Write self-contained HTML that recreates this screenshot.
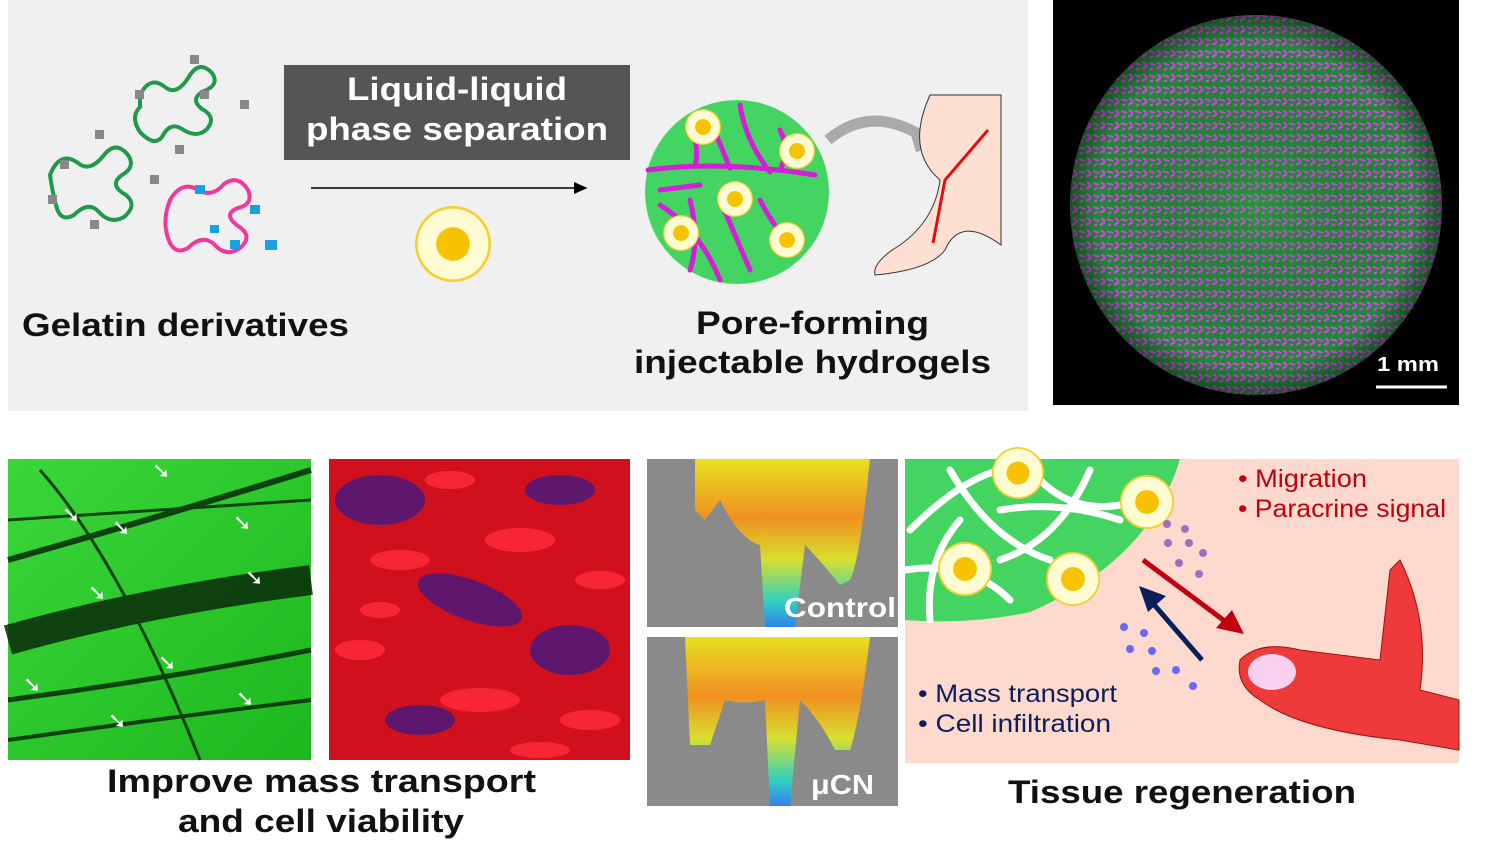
<!DOCTYPE html>
<html><head><meta charset="utf-8"><style>
html,body{margin:0;padding:0;background:#fff;}
svg{display:block;}
text{font-family:"Liberation Sans","DejaVu Sans",sans-serif;}
.b{font-weight:bold;}
</style></head><body>
<svg width="1495" height="865" viewBox="0 0 1495 865" xmlns="http://www.w3.org/2000/svg">
<defs>
<radialGradient id="cellg"><stop offset="0.43" stop-color="#f7c300"/><stop offset="0.45" stop-color="#fffbd2"/><stop offset="0.92" stop-color="#fffbd2"/><stop offset="0.94" stop-color="#f5cf30"/></radialGradient>
<pattern id="mag" width="14" height="12" patternUnits="userSpaceOnUse">
<rect width="14" height="12" fill="#1f8a34"/>
<path d="M1 3 l6 2 M8 9 l5 -3 M2 10 l3 -2 M9 2 l4 3" stroke="#d845e8" stroke-width="2.2"/>
</pattern>
<radialGradient id="sph"><stop offset="0" stop-color="#30c040" stop-opacity="0.25"/><stop offset="0.85" stop-color="#000" stop-opacity="0"/><stop offset="1" stop-color="#000" stop-opacity="0.4"/></radialGradient>
<linearGradient id="greenimg" x1="0" y1="0" x2="1" y2="1"><stop offset="0" stop-color="#3ad63a"/><stop offset="1" stop-color="#1db81d"/></linearGradient>
<linearGradient id="mouse" x1="0" y1="0" x2="0" y2="1"><stop offset="0" stop-color="#e8e020"/><stop offset="0.35" stop-color="#f09020"/><stop offset="0.6" stop-color="#d8e030"/><stop offset="0.85" stop-color="#30d0c0"/><stop offset="1" stop-color="#3080f0"/></linearGradient>
<marker id="ah" markerWidth="10" markerHeight="10" refX="8" refY="5" orient="auto"><path d="M0,1 L9,5 L0,9 z" fill="#000"/></marker>
</defs>

<rect x="8" y="0" width="1020" height="411" fill="#f0f0f0"/>
<g fill="none" stroke-width="4" stroke-linecap="round">
<path d="M140,95 q10,-20 25,-8 q12,10 25,-12 q10,-15 22,-2 q8,12 -8,18 q-15,8 -2,18 q15,8 5,20 q-10,10 -25,0 q-12,-8 -20,8 q-8,10 -22,-5 q-10,-15 0,-25z" stroke="#1f9a4a"/>
<path d="M50,175 q10,-25 28,-12 q12,10 26,-8 q12,-15 24,0 q8,12 -6,20 q-14,10 4,20 q12,10 -2,22 q-14,8 -26,-6 q-10,-10 -24,4 q-14,8 -18,-10 q-4,-15 -6,-30z" stroke="#1f9a4a"/>
<path d="M170,200 q12,-20 28,-10 q14,8 26,-6 q14,-10 24,6 q6,14 -10,18 q-16,6 0,18 q16,10 2,22 q-14,10 -26,-4 q-12,-10 -26,4 q-14,8 -20,-10 q-6,-18 2,-38z" stroke="#ee3a9a"/>
</g>
<g fill="#888"><rect x="190" y="55" width="9" height="9"/><rect x="240" y="100" width="9" height="9"/><rect x="135" y="90" width="9" height="9"/><rect x="175" y="145" width="9" height="9"/><rect x="95" y="130" width="9" height="9"/><rect x="150" y="175" width="9" height="9"/><rect x="48" y="195" width="9" height="9"/><rect x="90" y="220" width="9" height="9"/><rect x="200" y="90" width="9" height="9"/><rect x="60" y="160" width="9" height="9"/></g>
<g fill="#1aa0e0"><rect x="195" y="185" width="10" height="9"/><rect x="250" y="205" width="10" height="9"/><rect x="265" y="240" width="12" height="10"/><rect x="230" y="240" width="10" height="9"/><rect x="210" y="225" width="9" height="8"/></g>
<text x="22" y="336" class="b" font-size="32" fill="#111" textLength="327" lengthAdjust="spacingAndGlyphs">Gelatin derivatives</text>

<rect x="284" y="65" width="346" height="95" fill="#555"/>
<text x="347" y="100" class="b" font-size="32" fill="#fff" textLength="220" lengthAdjust="spacingAndGlyphs">Liquid-liquid</text>
<text x="306" y="140" class="b" font-size="32" fill="#fff" textLength="302" lengthAdjust="spacingAndGlyphs">phase separation</text>
<line x1="311" y1="188" x2="586" y2="188" stroke="#000" stroke-width="1.5" marker-end="url(#ah)"/>
<circle cx="453" cy="244" r="38" fill="url(#cellg)"/>

<circle cx="737" cy="192" r="92" fill="#44d461"/>
<g stroke="#d51ed8" stroke-width="5" fill="none" stroke-linecap="round">
<path d="M648,170 Q720,160 815,175"/><path d="M660,205 Q700,230 720,280"/><path d="M690,120 Q700,150 695,165"/><path d="M740,105 Q745,140 770,172"/><path d="M690,200 Q700,240 690,270"/><path d="M760,200 Q780,240 800,245"/><path d="M710,120 L730,168"/><path d="M780,130 Q790,150 780,170"/><path d="M720,200 L750,270"/><path d="M660,190 L700,185"/>
</g>
<circle cx="703" cy="127" r="18" fill="url(#cellg)"/><circle cx="797" cy="151" r="18" fill="url(#cellg)"/><circle cx="735" cy="199" r="18" fill="url(#cellg)"/><circle cx="681" cy="233" r="18" fill="url(#cellg)"/><circle cx="787" cy="240" r="18" fill="url(#cellg)"/>
<path d="M828,140 Q870,105 920,135" stroke="#aaa" stroke-width="11" fill="none"/>
<path d="M908,125 L932,148 L916,152z" fill="#aaa"/>
<path d="M930,95 L1001,95 L1001,245 Q960,215 945,250 Q930,270 875,275 Q872,262 900,245 Q935,220 940,180 Q905,150 930,95z" fill="#fde0d2" stroke="#333" stroke-width="1"/>
<path d="M988,130 L945,180 L933,243" stroke="#e01010" stroke-width="3" fill="none"/>
<text x="696" y="334" class="b" font-size="32" fill="#111" textLength="233" lengthAdjust="spacingAndGlyphs">Pore-forming</text>
<text x="634" y="373" class="b" font-size="32" fill="#111" textLength="357" lengthAdjust="spacingAndGlyphs">injectable hydrogels</text>

<rect x="1053" y="0" width="406" height="405" fill="#000"/>
<ellipse cx="1256" cy="205" rx="186" ry="190" fill="url(#mag)"/>
<ellipse cx="1256" cy="205" rx="186" ry="190" fill="url(#sph)"/>
<text x="1377" y="371" class="b" font-size="20" fill="#fff" textLength="62" lengthAdjust="spacingAndGlyphs">1 mm</text>
<line x1="1376" y1="387" x2="1447" y2="387" stroke="#fff" stroke-width="3"/>

<rect x="8" y="459" width="303" height="301" fill="url(#greenimg)"/>
<g stroke="#0a2a0a" fill="none" opacity="0.85">
<path d="M8,640 Q150,600 311,580" stroke-width="30"/>
<path d="M8,560 Q150,520 311,470" stroke-width="6"/>
<path d="M8,700 Q160,680 311,650" stroke-width="5"/>
<path d="M40,470 Q120,560 200,760" stroke-width="3"/>
<path d="M8,520 L311,500" stroke-width="3"/>
<path d="M8,740 Q150,720 311,700" stroke-width="4"/>
</g>
<g fill="#fff" font-size="22"><text x="62" y="522">➘</text><text x="112" y="535">➘</text><text x="152" y="478">➘</text><text x="233" y="530">➘</text><text x="88" y="600">➘</text><text x="245" y="585">➘</text><text x="158" y="670">➘</text><text x="23" y="692">➘</text><text x="108" y="728">➘</text><text x="236" y="706">➘</text></g>

<rect x="329" y="459" width="301" height="301" fill="#d0101c"/>
<g fill="#3a1a8a" opacity="0.75"><ellipse cx="380" cy="500" rx="45" ry="25"/><ellipse cx="470" cy="600" rx="55" ry="20" transform="rotate(20 470 600)"/><ellipse cx="570" cy="650" rx="40" ry="25"/><ellipse cx="560" cy="490" rx="35" ry="15"/><ellipse cx="420" cy="720" rx="35" ry="15"/></g>
<g fill="#ff2a3a" opacity="0.85"><ellipse cx="400" cy="560" rx="30" ry="10"/><ellipse cx="520" cy="540" rx="35" ry="12"/><ellipse cx="360" cy="650" rx="25" ry="10"/><ellipse cx="480" cy="700" rx="40" ry="12"/><ellipse cx="590" cy="720" rx="30" ry="10"/><ellipse cx="600" cy="580" rx="25" ry="9"/><ellipse cx="450" cy="480" rx="25" ry="9"/><ellipse cx="380" cy="610" rx="20" ry="8"/><ellipse cx="540" cy="750" rx="30" ry="8"/></g>
<text x="107" y="792" class="b" font-size="32" fill="#111" textLength="429" lengthAdjust="spacingAndGlyphs">Improve mass transport</text>
<text x="178" y="832" class="b" font-size="32" fill="#111" textLength="286" lengthAdjust="spacingAndGlyphs">and cell viability</text>

<rect x="647" y="459" width="251" height="168" fill="#8a8a8a"/>
<path d="M695,459 L870,459 Q860,560 850,580 L840,585 Q820,560 805,545 L795,627 L765,627 L760,545 Q740,540 720,500 L705,520 L695,510z" fill="url(#mouse)"/>
<text x="784" y="617" class="b" font-size="28" fill="#fff" textLength="112" lengthAdjust="spacingAndGlyphs">Control</text>
<rect x="647" y="637" width="251" height="169" fill="#8a8a8a"/>
<path d="M685,637 L870,637 Q860,720 850,750 L835,750 Q820,720 800,700 L790,806 L770,806 L765,700 Q745,705 725,700 L710,745 L690,745z" fill="url(#mouse)"/>
<text x="811" y="794" class="b" font-size="28" fill="#fff" textLength="63" lengthAdjust="spacingAndGlyphs">μCN</text>

<rect x="905" y="459" width="554" height="304" fill="#fdd9ce"/>
<path d="M905,459 L1180,459 Q1150,560 1030,612 Q970,625 905,620 Z" fill="#44d461"/>
<g stroke="#fff" stroke-width="7" fill="none" stroke-linecap="round">
<path d="M910,530 Q960,480 1000,470"/><path d="M930,620 Q925,560 960,520"/><path d="M950,470 Q990,540 1050,560"/><path d="M1040,480 Q1080,520 1140,500"/><path d="M905,570 Q970,560 1010,600"/><path d="M1090,470 Q1060,540 1000,560"/><path d="M1000,510 Q1060,500 1120,520"/>
</g>
<circle cx="1018" cy="473" r="26" fill="url(#cellg)"/><circle cx="1147" cy="502" r="27" fill="url(#cellg)"/><circle cx="965" cy="569" r="27" fill="url(#cellg)"/><circle cx="1073" cy="579" r="27" fill="url(#cellg)"/>
<g fill="#9a70c0"><circle cx="1167" cy="524" r="4"/><circle cx="1185" cy="529" r="4"/><circle cx="1168" cy="543" r="4"/><circle cx="1189" cy="543" r="4"/><circle cx="1203" cy="553" r="4"/><circle cx="1179" cy="563" r="4"/><circle cx="1199" cy="574" r="4"/></g>
<g fill="#6a6af0"><circle cx="1124" cy="627" r="4"/><circle cx="1144" cy="633" r="4"/><circle cx="1130" cy="649" r="4"/><circle cx="1152" cy="651" r="4"/><circle cx="1156" cy="671" r="4"/><circle cx="1176" cy="670" r="4"/><circle cx="1193" cy="686" r="4"/></g>
<line x1="1143" y1="560" x2="1230" y2="625" stroke="#c00010" stroke-width="5"/><path d="M1244,634 L1216,628 L1232,610z" fill="#c00010"/>
<line x1="1202" y1="660" x2="1150" y2="600" stroke="#0a1e5a" stroke-width="5"/><path d="M1139,586 L1166,596 L1148,612z" fill="#0a1e5a"/>
<path d="M1240,660 Q1260,640 1300,650 L1380,660 L1390,570 L1400,560 Q1430,620 1420,690 L1459,700 L1459,750 L1400,740 Q1300,730 1260,700 Q1235,685 1240,660z" fill="#ee3a3a" stroke="#a01010" stroke-width="1"/>
<ellipse cx="1272" cy="672" rx="24" ry="18" fill="#f8d0f0"/>
<text x="1238" y="487" font-size="25" fill="#c00010" textLength="129" lengthAdjust="spacingAndGlyphs">• Migration</text>
<text x="1238" y="517" font-size="25" fill="#c00010" textLength="208" lengthAdjust="spacingAndGlyphs">• Paracrine signal</text>
<text x="918" y="702" font-size="25" fill="#0a1e5a" textLength="199" lengthAdjust="spacingAndGlyphs">• Mass transport</text>
<text x="918" y="732" font-size="25" fill="#0a1e5a" textLength="193" lengthAdjust="spacingAndGlyphs">• Cell infiltration</text>
<text x="1008" y="803" class="b" font-size="32" fill="#111" textLength="348" lengthAdjust="spacingAndGlyphs">Tissue regeneration</text>
</svg>
</body></html>
